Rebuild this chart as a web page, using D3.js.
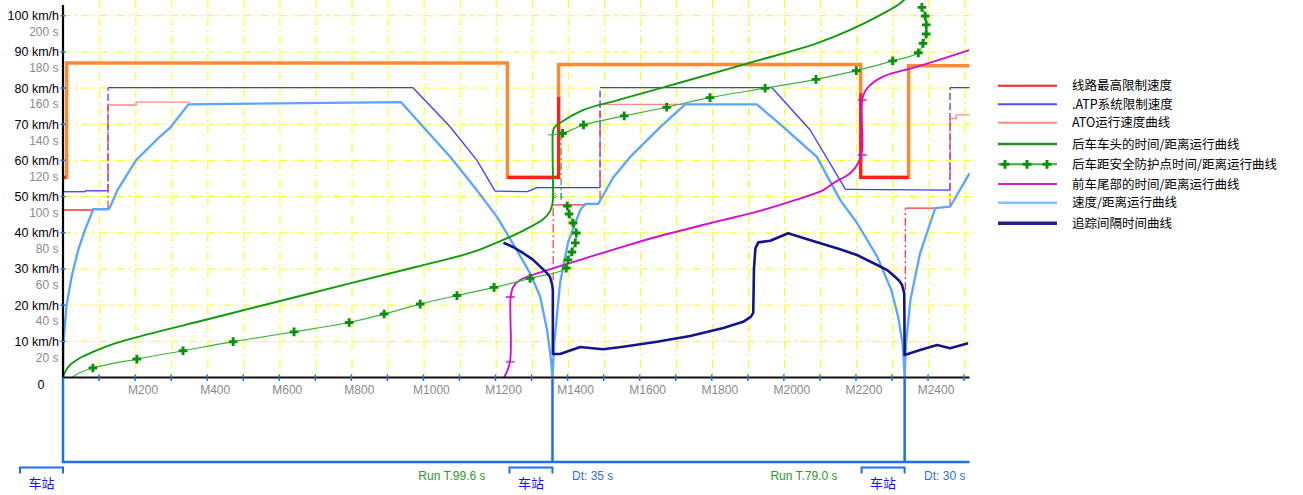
<!DOCTYPE html>
<html><head><meta charset="utf-8">
<script src="https://cdn.jsdelivr.net/npm/d3@7"></script>
<style>
html,body{margin:0;padding:0;background:#fff;}
svg{display:block;font-family:"Liberation Sans",Arial,sans-serif;}
.cjk{font-family:"Noto Sans CJK SC","Noto Sans",sans-serif;}
</style></head><body>
<svg id="chart" width="1303" height="495"></svg>
<script>
// ---------------- data ----------------
const speedTicks = [10,20,30,40,50,60,70,80,90,100];          // km/h
const timeTicks  = [20,40,60,80,100,120,140,160,180,200];       // s
const distTicks  = d3.range(100, 2501, 100);                    // m
const distLabels = [200,400,600,800,1000,1200,1400,1600,1800,2000,2200,2400];
const stations   = [0, 1358, 2335];
const stationName = "车站";
const runTimeLabels = ["Run T.99.6 s", "Run T.79.0 s"];
const dwellLabels   = ["Dt: 35 s", "Dt: 30 s"];

const legendLabels = ["线路最高限制速度", ".ATP系统限制速度", "ATO运行速度曲线",
  "后车车头的时间/距离运行曲线", "后车距安全防护点时间/距离运行曲线",
  "前车尾部的时间/距离运行曲线", "速度/距离运行曲线", "追踪间隔时间曲线"];

// [distance m, speed km/h]
const orangeLimit = [[0,55.3],[10,55.3],[10,86.9],[1233,86.9],[1233,55.3],[1375,55.3],[1375,86.5],
  [2213,86.5],[2213,55.3],[2346,55.3],[2346,86.2],[2515,86.2]];
const lineMaxSegments = [
  [[0,55.3],[8,55.3]],
  [[1233,55.3],[1375,55.3],[1375,77.5]],
  [[2213,78.6],[2213,55.3],[2346,55.3]]];
const atpLimit = [[0,51.35],[61,51.35],[61,51.6],[125,51.6],[125,80.1],[971,80.1],[1074,69.3],[1148,60.1],
  [1199,51.5],[1288,51.35],[1315,52.5],[1490,52.5],[1490,80.1],[1967,80.1],[2073,68.4],[2171,52.0],
  [2461,51.8],[2461,80.1],[2515,80.1]];
const atoLow = [
  [[0,46.3],[83,46.3],[83,46.65],[125,46.65]],
  [[1360,47.7],[1451,47.7]],
  [[2337,46.8],[2423,46.8]]];
const atoJumps = [
  [[125,46.65],[125,75.3]],
  [[1360,26.9],[1360,47.7]],
  [[1490,49.4],[1490,75.5]],
  [[2337,24.2],[2337,46.8]],
  [[2461,47.2],[2461,72.1]]];
const atoHigh = [
  [[125,75.3],[203,75.3],[203,76.1],[352,76.1]],
  [[1490,75.5],[1721,75.5]],
  [[2461,71.6],[2478,71.6],[2478,72.6],[2515,72.6]]];
const speedCurve = [[0,0],[1,9.5],[10,20],[24,27.9],[42,35.2],[61,40.8],[84,46.5],[126,46.5],[131,47.2],
  [151,51.8],[203,60.1],[269,66.6],[296,68.9],[348,75.5],[938,76.1],[999,69.3],[1074,61.0],[1148,51.8],
  [1204,44.4],[1259,35.2],[1296,28.8],[1324,22.3],[1343,13.1],[1354,4.8],[1358,0],[1363,9.5],[1379,26.1],
  [1401,37.2],[1435,46.3],[1449,48.0],[1485,48.0],[1526,55.2],[1573,60.9],[1657,69.2],[1726,75.5],
  [1925,75.5],[1998,69.3],[2092,60.9],[2156,49.1],[2203,42.7],[2259,33.4],[2298,24.2],[2317,16.8],
  [2329,9.5],[2333,4],[2335,0],[2339,9.5],[2351,21.4],[2378,34.4],[2420,46.8],[2461,47.2],[2515,56.4]];

// [distance m, time s]
const headCurve = [[0,0],[5.5,3.0],[19.4,6.9],[47,10.8],[83,14.1],[140,18.6],[203,22.2],[402,32.2],
  [547,39.5],[796,52.0],[981,61.2],[1111,67.8],[1160,71.0],[1204,74.6],[1277,81.2],[1333,87.6],
  [1350,91.5],[1356,94.4],[1359,97.5],[1359,135.5],[1362,137.8],[1370,139.6],[1379,140.8],[1444,147.9],
  [1537,153.2],[1721,163.5],[1906,174.0],[2091,184.7],[2184,192.1],[2276,201.3],[2323,206.9],[2364,215]];
// [distance m, time s, cross marker 1/0]
const safeRun1 = [[25,0,0],[42,2.2,0],[83,5.25,1],[205,10.2,1],[333,14.8,1],[472,19.8,1],[641,25.2,1],
  [794,30.4,1],[891,35.1,1],[991,40.6,1],[1093,45.3,1],[1196,49.8,1],[1296,54.8,1],[1396,60.5,1],
  [1401,65.0,1],[1412,69.4,1],[1421,74.4,1],[1424,79.9,1],[1415,85.4,1],[1404,90.4,1],[1399,94.8,1]];
const safeDwell = [[1382,98.1],[1382,135.1]];
const safeRun2 = [[1346,134.1,0],[1386,135.0,1],[1444,139.6,1],[1557,144.6,1],[1675,149.4,1],
  [1795,154.7,1],[1948,159.9,1],[2089,164.8,1],[2201,169.6,1],[2302,175.0,1],[2373,179.5,1],
  [2386,184.7,1],[2395,189.9,1],[2395,194.9,1],[2392,199.8,1],[2383,204.6,1]];
const prevTail = [[1224,0],[1240,8.6],[1242,44.5],[1249,50.0],[1268,53.9],[1304,56.7],[1379,61.6],
  [1554,72.3],[1648,77.8],[1740,82.5],[1832,87.1],[1926,91.7],[2018,97.2],[2109,103.6],[2137,107.4],
  [2184,112.9],[2206,118.4],[2217,125.8],[2217,153.4],[2231,159.9],[2275,166.3],[2370,171.8],[2514,181.0]];
const prevTailTicks = [[1241,8.6],[1241,44.5],[2217,123.0],[2217,153.4]];
const headway = [[1222,74.5],[1250,72.0],[1277,68.7],[1303,65.3],[1324,61.3],[1340,58.3],[1351,55.7],
  [1357,51.5],[1359,48.4],[1359,13.0],[1379,13.0],
  [1435,16.9],[1462,16.3],[1499,15.6],[1554,17.0],[1648,19.8],[1740,22.9],[1832,27.4],[1887,30.8],
  [1908,33.5],[1915,35.7],[1917,60],[1921,71.4],[1929,74.7],[1962,75.6],[2012,79.7],[2065,76.4],
  [2156,70.9],[2203,67.7],[2259,62.2],[2288,59.2],[2303,56.7],[2320,53.5],[2328,51.1],[2334,46.5],
  [2335,12.4],[2378,15.2],[2425,18.0],[2461,16.2],[2511,18.9]];

// ---------------- drawing ----------------
const svg = d3.select("#chart");
const x  = d3.scaleLinear().domain([0,2515]).range([63,969.5]);
const yV = d3.scaleLinear().domain([0,100]).range([377.5,15.7]);
const yT = d3.scaleLinear().domain([0,200]).range([377.5,15.7]);
const lineV = d3.line().x(d=>x(d[0])).y(d=>yV(d[1]));
const lineT = d3.line().x(d=>x(d[0])).y(d=>yT(d[1]));
const smoothT = d3.line().x(d=>x(d[0])).y(d=>yT(d[1])).curve(d3.curveCatmullRom.alpha(0.5));
const X0 = x(0), X1 = x(2515), Y0 = yV(0);

svg.append("defs").append("clipPath").attr("id","plotclip")
  .append("rect").attr("x",X0-1).attr("y",-20).attr("width",X1-X0+2).attr("height",Y0+20);

// grid
const grid = svg.append("g");
grid.selectAll("line.h").data(speedTicks).join("line")
  .attr("x1",X0).attr("x2",X1).attr("y1",d=>yV(d)).attr("y2",d=>yV(d))
  .attr("stroke","#ffff00").attr("stroke-width",1).attr("stroke-dasharray","8,4,2,4");
grid.selectAll("line.v").data(distTicks).join("line")
  .attr("x1",d=>x(d)+0.7).attr("x2",d=>x(d)+0.7).attr("y1",0).attr("y2",Y0)
  .attr("stroke","#ffff00").attr("stroke-width",1).attr("stroke-dasharray","8,4,2,4");

const plot = svg.append("g").attr("clip-path","url(#plotclip)");

// orange step
plot.append("path").attr("d",lineV(orangeLimit)).attr("fill","none")
  .attr("stroke","#fb8a36").attr("stroke-width",3.5).attr("stroke-linejoin","miter");
// red line max
lineMaxSegments.forEach(s=>plot.append("path").attr("d",lineV(s)).attr("fill","none")
  .attr("stroke","#ff1f1f").attr("stroke-width",3.2));

// segment drawer: vertical jumps dashed
function drawSegs(data, line, color, w){
  for(let i=1;i<data.length;i++){
    const a=data[i-1], b=data[i];
    const vert = a[0]===b[0];
    plot.append("path").attr("d",line([a,b])).attr("fill","none")
      .attr("stroke",color).attr("stroke-width",w)
      .attr("stroke-dasharray", vert ? "7,3" : null);
  }
}
drawSegs(atpLimit, lineV, "#3c3cff", 1.3);
atoLow.forEach(s=>plot.append("path").attr("d",lineV(s)).attr("fill","none")
  .attr("stroke","#ff3030").attr("stroke-width",1.3));
atoJumps.forEach(s=>plot.append("path").attr("d",lineV(s)).attr("fill","none")
  .attr("stroke","#ff4040").attr("stroke-width",1.3).attr("stroke-dasharray","8,3,2,3"));
atoHigh.forEach(s=>plot.append("path").attr("d",lineV(s)).attr("fill","none")
  .attr("stroke","#ff8a80").attr("stroke-width",1.4));

// speed curve
plot.append("path").attr("d",lineV(speedCurve)).attr("fill","none")
  .attr("stroke","#5aa5ff").attr("stroke-width",2.3).attr("stroke-linejoin","round");

// magenta
plot.append("path").attr("d",smoothT(prevTail)).attr("fill","none")
  .attr("stroke","#d010d0").attr("stroke-width",1.9).attr("stroke-linejoin","round");
plot.selectAll("line.mt").data(prevTailTicks).join("line")
  .attr("x1",d=>x(d[0])-4.5).attr("x2",d=>x(d[0])+4.5).attr("y1",d=>yT(d[1])).attr("y2",d=>yT(d[1]))
  .attr("stroke","#d010d0").attr("stroke-width",1.3);

// dark green head curve
plot.append("path").attr("d",smoothT(headCurve)).attr("fill","none")
  .attr("stroke","#119911").attr("stroke-width",1.9).attr("stroke-linejoin","round");

// light green safety curve
[safeRun1, safeRun2].forEach(run=>{
  plot.append("path").attr("d",smoothT(run)).attr("fill","none")
    .attr("stroke","#3db33d").attr("stroke-width",1.2);
});
plot.append("path").attr("d",lineT(safeDwell)).attr("fill","none")
  .attr("stroke","#2fa52f").attr("stroke-width",1.2).attr("stroke-dasharray","7,3,2,3");
const cross = d3.symbol().type(d3.symbolCross).size(42);
plot.selectAll("path.cr").data(safeRun1.concat(safeRun2).filter(d=>d[2]===1)).join("path")
  .attr("d",cross).attr("transform",d=>`translate(${x(d[0])},${yT(d[1])})`)
  .attr("fill","#0b8f0b");
plot.append("text").attr("x",x(1362)).attr("y",yT(99)).attr("font-size",8).attr("fill","#2fa52f")
  .attr("text-anchor","middle").text("S");
plot.append("text").attr("x",x(1385)).attr("y",yT(99)).attr("font-size",8).attr("fill","#2fa52f")
  .attr("text-anchor","middle").text("L");

// navy headway
plot.append("path").attr("d",lineT(headway)).attr("fill","none")
  .attr("stroke","#14148a").attr("stroke-width",2.6).attr("stroke-linejoin","round");

// axes
const axisBlue = "#1f6fe5";
svg.append("line").attr("x1",X0).attr("x2",X0).attr("y1",5).attr("y2",Y0+1)
  .attr("stroke","#000").attr("stroke-width",2.2);
svg.append("line").attr("x1",X0).attr("x2",X1).attr("y1",Y0).attr("y2",Y0)
  .attr("stroke","#111").attr("stroke-width",2.2);
svg.selectAll("line.yt").data(speedTicks).join("line")
  .attr("x1",X0-2.5).attr("x2",X0+2.5).attr("y1",d=>yV(d)).attr("y2",d=>yV(d))
  .attr("stroke",axisBlue).attr("stroke-width",1.5);
svg.selectAll("line.xt").data(distTicks).join("line")
  .attr("x1",d=>x(d)).attr("x2",d=>x(d)).attr("y1",Y0-3).attr("y2",Y0+3.5)
  .attr("stroke",axisBlue).attr("stroke-width",1.5);

svg.selectAll("text.yv").data(speedTicks).join("text")
  .attr("x",59).attr("y",d=>yV(d)).attr("dy","0.36em").attr("text-anchor","end")
  .attr("font-size",12.5).attr("fill","#000").text(d=>d+" km/h");
svg.selectAll("text.yt").data(timeTicks).join("text")
  .attr("x",58.5).attr("y",d=>yT(d)+16).attr("dy","0.36em").attr("text-anchor","end")
  .attr("font-size",12).attr("fill","#8a8a8a").text(d=>d+" s");
svg.append("text").attr("x",41).attr("y",384).attr("dy","0.36em").attr("text-anchor","middle")
  .attr("font-size",12.5).attr("fill","#000").text("0");
svg.selectAll("text.xl").data(distLabels).join("text")
  .attr("x",d=>x(d)+8).attr("y",390).attr("dy","0.36em").attr("text-anchor","middle")
  .attr("font-size",12).attr("fill","#8a8a8a").text(d=>"M"+d);

// bottom station panel
const PB = 462;
svg.append("path").attr("d",`M${X0},${Y0}V${PB}H${X1}`).attr("fill","none")
  .attr("stroke",axisBlue).attr("stroke-width",2.5);
stations.slice(1).forEach(s=>svg.append("line").attr("x1",x(s)).attr("x2",x(s)).attr("y1",Y0).attr("y2",PB)
  .attr("stroke",axisBlue).attr("stroke-width",2.5));
stations.forEach(s=>{
  const sx=x(s);
  svg.append("path").attr("d",`M${sx-43},473.5V467.5H${sx}V473.5`).attr("fill","none")
    .attr("stroke",axisBlue).attr("stroke-width",2);
  svg.append("text").attr("class","cjk").attr("x",sx-21.5).attr("y",483).attr("dy","0.36em")
    .attr("text-anchor","middle").attr("font-size",13).attr("fill","#1414e6").text(stationName);
});
runTimeLabels.forEach((t,i)=>svg.append("text").attr("x",x(stations[i+1])-67).attr("y",476).attr("dy","0.36em")
  .attr("text-anchor","end").attr("font-size",12).attr("fill","#2a9a2a").text(t));
dwellLabels.forEach((t,i)=>svg.append("text").attr("x",x(stations[i+1])+19.5).attr("y",476).attr("dy","0.36em")
  .attr("text-anchor","start").attr("font-size",12).attr("fill","#3070e0").text(t));

// legend
const legY = [85.7,104.3,122.7,144,164.3,184,202.7,223.3];
const legStyles = [
  {c:"#ff2020",w:2},{c:"#5050ff",w:2},{c:"#ff8a80",w:2},{c:"#2a8a2a",w:2.5},
  {c:"#3db33d",w:2,cross:true},{c:"#d020d0",w:2},{c:"#80c0ff",w:2.5},{c:"#202090",w:3.5}];
const leg = svg.append("g");
legendLabels.forEach((lab,i)=>{
  const st = legStyles[i];
  leg.append("line").attr("x1",998).attr("x2",1057).attr("y1",legY[i]).attr("y2",legY[i])
    .attr("stroke",st.c).attr("stroke-width",st.w);
  if(st.cross){
    [1005,1027,1047].forEach(cx=>leg.append("path").attr("d",cross)
      .attr("transform",`translate(${cx},${legY[i]})`).attr("fill","#0b8f0b"));
  }
  leg.append("text").attr("class","cjk").attr("x",1072).attr("y",legY[i]).attr("dy","0.36em")
    .attr("font-size",12.5).attr("fill","#000").text(lab);
});
</script>
</body></html>
